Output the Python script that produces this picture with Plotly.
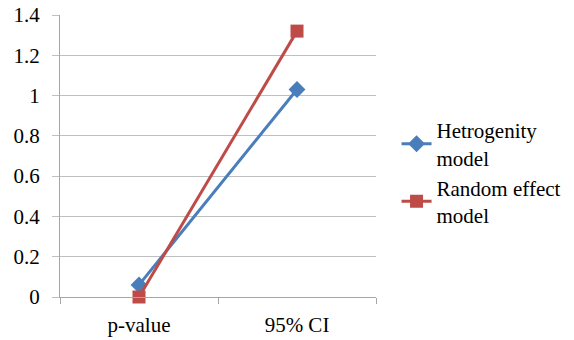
import plotly.graph_objects as go

categories = ["p-value", "95% CI"]
hetro_values = [0.06, 1.03]
random_values = [0.0, 1.32]
series_names = ["Hetrogenity<br>model", "Random effect<br>model"]

SERIF = "'Liberation Serif', 'Times New Roman', Times, serif"

fig = go.Figure()
fig.add_trace(go.Scatter(x=categories, y=hetro_values, name=series_names[0],
                         mode="lines+markers", cliponaxis=False,
                         line=dict(color="#4a7ebb", width=3),
                         marker=dict(symbol="diamond", size=13, color="#4a7ebb")))
fig.add_trace(go.Scatter(x=categories, y=random_values, name=series_names[1],
                         mode="lines+markers", cliponaxis=False,
                         line=dict(color="#be4b48", width=3),
                         marker=dict(symbol="square", size=13, color="#be4b48")))

fig.update_layout(
    width=574, height=340,
    margin=dict(l=60, r=198, t=15, b=43, autoexpand=False),
    paper_bgcolor="white", plot_bgcolor="white",
    font=dict(family=SERIF, size=21, color="black"),
    legend=dict(x=1.065, y=0.44, xanchor="left", yanchor="middle",
                font=dict(family=SERIF, size=21), tracegroupgap=8, itemwidth=30),
    xaxis=dict(type="category", showline=True, linecolor="#a6a6a6", linewidth=1,
               ticks="outside", tickson="boundaries", ticklen=6, tickcolor="#a6a6a6",
               showgrid=False, range=[-0.5, 1.5], automargin=False,
               ticklabelstandoff=9, tickfont=dict(family=SERIF, size=21)),
    yaxis=dict(range=[0, 1.4], dtick=0.2, showline=True, linecolor="#a6a6a6",
               gridcolor="#bfbfbf", ticks="outside", ticklen=7, tickcolor="#bfbfbf",
               zeroline=False, tickformat="~g", automargin=False,
               ticklabelstandoff=8, tickfont=dict(family=SERIF, size=21)),
)
fig.write_html("out.html", config={"displayModeBar": False},
               post_script="document.body.style.margin='0';")
